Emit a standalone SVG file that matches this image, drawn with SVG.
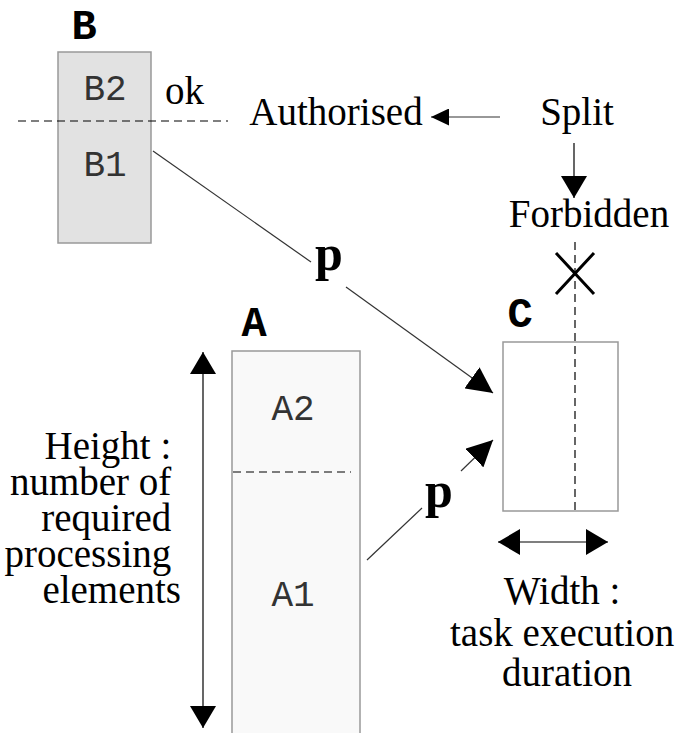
<svg xmlns="http://www.w3.org/2000/svg" width="694" height="733" viewBox="0 0 694 733">
  <style>
    .box { stroke: #999; stroke-width: 1.5; }
    .mono { font-family: "Liberation Mono", "Courier New", monospace; font-size: 36px; fill: #333; }
    .tag { font-family: "Liberation Mono", "Courier New", monospace; font-size: 42px; font-weight: bold; fill: #000; }
    .serif { font-family: "Liberation Serif", "Times New Roman", serif; font-size: 39px; fill: #000; }
    .p { font-family: "Liberation Serif", "Times New Roman", serif; font-size: 50px; font-weight: bold; fill: #000; }
    .dash { stroke: #000; stroke-width: 1.2; stroke-dasharray: 8 5; fill: none; }
    .line { stroke: #000; stroke-width: 1.2; fill: none; }
    .thin { stroke: #333; stroke-width: 1.2; fill: none; }
  </style>
  <defs>
    <marker id="head" viewBox="0 0 10 10" refX="10" refY="5" markerWidth="10" markerHeight="10" markerUnits="userSpaceOnUse" orient="auto-start-reverse">
      <path d="M0,0 L10,5 L0,10 Z" fill="#000"/>
    </marker>
    <marker id="headL" viewBox="0 0 10 10" refX="10" refY="5" markerWidth="22" markerHeight="26" markerUnits="userSpaceOnUse" orient="auto-start-reverse" preserveAspectRatio="none">
      <path d="M0,0 L10,5 L0,10 Z" fill="#000"/>
    </marker>
    <marker id="headM" viewBox="0 0 10 10" refX="10" refY="5" markerWidth="18" markerHeight="17" markerUnits="userSpaceOnUse" orient="auto-start-reverse" preserveAspectRatio="none">
      <path d="M0,0 L10,5 L0,10 Z" fill="#000"/>
    </marker>
    <marker id="headP" viewBox="0 0 10 10" refX="10" refY="5" markerWidth="26" markerHeight="26" markerUnits="userSpaceOnUse" orient="auto" preserveAspectRatio="none">
      <path d="M0,0 L10,5 L0,10 Z" fill="#000"/>
    </marker>
  </defs>

  <!-- task B, split across the boundary -->
  <g id="B">
    <rect class="box" x="58" y="52" width="93" height="191" fill="#e2e2e2"/>
    <text class="tag" x="84" y="39" text-anchor="middle">B</text>
    <text class="mono" x="105" y="100" text-anchor="middle">B2</text>
    <text class="mono" x="105" y="176" text-anchor="middle">B1</text>
  </g>

  <!-- boundary line -->
  <g id="boundary">
    <line class="dash" x1="18" y1="121" x2="228" y2="121"/>
    <text class="serif" x="165" y="104">ok</text>
  </g>

  <!-- task A -->
  <g id="A">
    <rect class="box" x="232" y="351" width="128" height="390" fill="#f9f9f9"/>
    <text class="tag" x="254" y="336" text-anchor="middle">A</text>
    <line class="dash" x1="233" y1="472" x2="351" y2="472"/>
    <text class="mono" x="293" y="420" text-anchor="middle">A2</text>
    <text class="mono" x="293" y="606" text-anchor="middle">A1</text>
  </g>

  <!-- task C -->
  <g id="C">
    <rect class="box" x="503" y="342" width="115" height="169" fill="#fff"/>
    <text class="tag" x="520" y="327" text-anchor="middle">C</text>
  </g>

  <!-- split annotations -->
  <g id="split">
    <text class="serif" x="577" y="125" text-anchor="middle">Split</text>
    <text class="serif" x="336" y="125" text-anchor="middle">Authorised</text>
    <text class="serif" x="589" y="227" text-anchor="middle">Forbidden</text>
    <line class="dash" x1="575" y1="242" x2="575" y2="514"/>
    <path d="M556,253 L594,294 M594,253 L556,294" stroke="#000" stroke-width="3" fill="none"/>
  </g>

  <!-- dimension labels -->
  <g id="height-label">
    <text class="serif" text-anchor="end">
      <tspan x="181" y="459">Height :</tspan>
      <tspan x="181" y="495">number of</tspan>
      <tspan x="181" y="531">required</tspan>
      <tspan x="181" y="567">processing</tspan>
      <tspan x="181" y="603">elements</tspan>
    </text>
  </g>
  <g id="width-label">
    <text class="serif" text-anchor="middle">
      <tspan x="567" y="604">Width :</tspan>
      <tspan x="567" y="646">task execution</tspan>
      <tspan x="567" y="686">duration</tspan>
    </text>
  </g>

  <!-- connectors -->
  <g id="connectors">
    <line class="thin" x1="500" y1="117" x2="431" y2="117" marker-end="url(#headM)"/>
    <line class="line" x1="574" y1="143" x2="574" y2="198" marker-end="url(#headL)"/>
    <line class="line" x1="203" y1="352" x2="203" y2="728" marker-start="url(#headL)" marker-end="url(#headL)"/>
    <line class="line" x1="498" y1="542" x2="608" y2="542" marker-start="url(#headL)" marker-end="url(#headL)"/>

    <!-- B1 -> C -->
    <line class="thin" x1="153" y1="151" x2="311" y2="262"/>
    <line class="thin" x1="346" y1="287" x2="493" y2="393" marker-end="url(#headP)"/>
    <text class="p" x="329" y="270" text-anchor="middle">p</text>

    <!-- A1 -> C -->
    <line class="thin" x1="367" y1="560" x2="422" y2="508"/>
    <line class="thin" x1="461" y1="471" x2="493" y2="440" marker-end="url(#headP)"/>
    <text class="p" x="439" y="507" text-anchor="middle">p</text>
  </g>
</svg>
